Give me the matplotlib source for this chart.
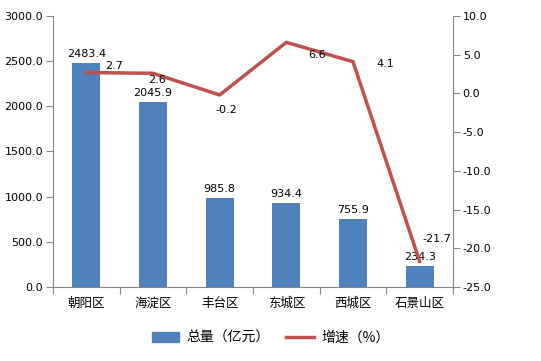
import matplotlib
matplotlib.use("Agg")
import matplotlib.pyplot as plt
from matplotlib.patches import Patch
from matplotlib.lines import Line2D
import matplotlib.transforms as mtransforms

plt.rcParams['font.family'] = ['DejaVu Sans', 'Noto Sans CJK SC']

categories = ['朝阳区', '海淀区', '丰台区', '东城区', '西城区', '石景山区']
totals = [2483.4, 2045.9, 985.8, 934.4, 755.9, 234.3]
growth = [2.7, 2.6, -0.2, 6.6, 4.1, -21.7]
left_ticks = [0, 500, 1000, 1500, 2000, 2500, 3000]
right_ticks = [-25, -20, -15, -10, -5, 0, 5, 10]

bar_color = '#4F81BD'
line_color = '#C0504D'
axis_color = '#868686'

fig = plt.figure(figsize=(5.41, 3.61), dpi=100)
ax = fig.add_axes([53/541, 1-287/361, 400/541, 271/361])
ax2 = ax.twinx()

x = list(range(len(categories)))
ax.bar(x, totals, width=0.42, color=bar_color, zorder=2)
ax.set_xlim(-0.5, len(categories) - 0.5)
ax.set_ylim(0, 3000)
ax.set_yticks(left_ticks)
ax.set_yticklabels([f'{v:.1f}' for v in left_ticks], fontsize=8)
ax.set_xticks([i - 0.5 for i in range(len(categories) + 1)])
ax.set_xticklabels([])
ax.tick_params(axis='x', length=5, color=axis_color, direction='out')
ax.tick_params(axis='y', length=5, color=axis_color, pad=2)

trans = mtransforms.blended_transform_factory(ax.transData, fig.transFigure)
for i, c in enumerate(categories):
    ax.text(i, 1 - 307/361, c, transform=trans, ha='center', va='baseline',
            fontsize=9, family=['Noto Sans CJK SC'])

ax2.plot(x, growth, color=line_color, linewidth=2.5, zorder=3)
ax2.set_ylim(-25, 10)
ax2.set_yticks(right_ticks)
ax2.set_yticklabels([f'{v:.1f}' for v in right_ticks], fontsize=8)
ax2.tick_params(axis='y', length=5, color=axis_color, pad=2)

for a in (ax, ax2):
    a.spines['top'].set_visible(False)
    for s in ('left', 'right', 'bottom'):
        a.spines[s].set_color(axis_color)
ax2.spines['left'].set_visible(False)
ax2.spines['bottom'].set_visible(False)
ax.spines['right'].set_visible(False)

for i, v in enumerate(totals):
    ax.annotate(f'{v:.1f}', (i, v), xytext=(0, 4), textcoords='offset pixels',
                ha='center', va='bottom', fontsize=8, zorder=4)

offsets = [(28, 7), (4, -7), (7, -15), (31, -13), (32, -2), (17, 22)]
for i, v in enumerate(growth):
    dx, dy = offsets[i]
    ax2.annotate(f'{v:.1f}', (i, v), xytext=(dx, dy), textcoords='offset pixels',
                 ha='center', va='center', fontsize=8, zorder=4)

handles = [Patch(color=bar_color), Line2D([0], [0], color=line_color, linewidth=2.5)]
fig.legend(handles, ['总量（亿元）', '增速（%）'], loc='center', bbox_to_anchor=(0.5, 1-338/361),
           ncol=2, frameon=False, prop={'family': ['Noto Sans CJK SC'], 'size': 10},
           handlelength=2.0, handleheight=0.8, columnspacing=1.2, handletextpad=0.5)

fig.savefig('out.png', dpi=100)
